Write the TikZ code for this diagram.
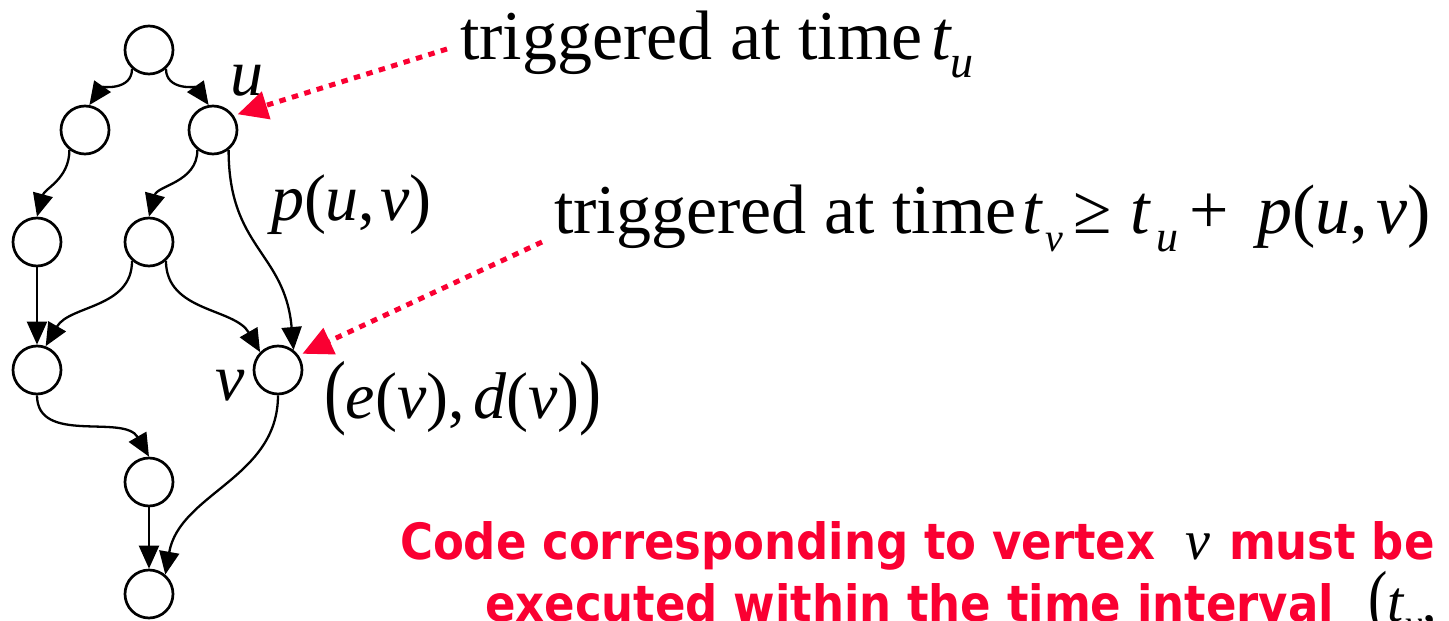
\documentclass[tikz,border=0pt]{standalone}
\usepackage{graphicx}
\usepackage{fontspec}
\setmainfont{Liberation Serif}
\newfontfamily\redsans[FakeStretch=0.9]{DejaVu Sans}
\usetikzlibrary{arrows.meta}
\definecolor{pptred}{RGB}{250,0,50}
\newcommand\mv[1]{\textit{#1}}
\newcommand\msub[2][46]{\raisebox{-0.27em}{\fontsize{#1}{#1}\selectfont\itshape #2}}
\newcommand\tallparen[1]{\scalebox{1}[1.25]{#1}}
\tikzset{
  vtx/.style={circle, draw, line width=2.7pt, minimum size=48pt, inner sep=0pt},
  edge/.style={line width=2.3pt, -{Triangle[length=23pt,width=20pt]}},
  redarrow/.style={draw=pptred, line width=5pt, dash pattern=on 6.5pt off 6.5pt,
    -{Triangle[length=30pt,width=28pt,fill=pptred]}, shorten >=4pt},
  lbl/.style={inner sep=0pt, outer sep=0pt, anchor=base west},
  big/.style={font=\fontsize{70}{84}\selectfont},
  mid/.style={font=\fontsize{66}{80}\selectfont},
  redtxt/.style={text=pptred, font=\fontsize{50}{60}\selectfont\redsans\bfseries},
}
\begin{document}
\begin{tikzpicture}[x=1pt,y=1pt]
\clip (0,0) rectangle (1449,-621);
\useasboundingbox (0,0) rectangle (1449,-621);

% vertices
\node[vtx] (A) at (149,-50) {};
\node[vtx] (B) at (85,-130) {};
\node[vtx] (U) at (213,-130) {};
\node[vtx] (C) at (37,-242) {};
\node[vtx] (D) at (149,-242) {};
\node[vtx] (E) at (37,-370) {};
\node[vtx] (V) at (278,-370) {};
\node[vtx] (F) at (149,-482) {};
\node[vtx] (G) at (149,-594) {};

% edges
\draw[edge] (A.228) to[out=-90,in=55] (B.80);
\draw[edge] (A.-48) to[out=-90,in=125] (U.100);
\draw[edge] (B.232) to[out=-90,in=75] (C.north);
\draw[edge] (U.232) to[out=-90,in=75] (D.north);
\draw[edge] (U.-52) to[out=-90,in=95,looseness=1.2] (V.52);
\draw[edge] (C.south) -- (E.north);
\draw[edge] (D.228) to[out=-90,in=60] (E.70);
\draw[edge] (D.-48) to[out=-90,in=120] (V.135);
\draw[edge] (E.south) to[out=-90,in=120] (F.north);
\draw[edge] (F.south) -- (G.north);
\draw[edge] (V.south) to[out=-90,in=80] (G.50);

% labels
\node[lbl, mid] (ulab) at (230,-95) {\mv{u}};
\node[lbl, mid] (vlab) at (215,-400) {\mv{v}};
\node[lbl, mid] (plab) at (271,-220) {\mv{p}(\mv{u},\hspace{5pt}\mv{v})};
\node[lbl, mid] (edlab) at (324,-418) {\tallparen{(}\mv{e}(\mv{v}),\hspace{8pt}\mv{d}(\mv{v})\tallparen{)}};

\node[lbl, big] (trig1) at (460,-59) {triggered at time};
\node[lbl, big] (tu1) at (931,-59) {\mv{t}\kern-1pt\msub{u}};
\node[lbl, big] (trig2) at (554,-233) {triggered at time};
\node[lbl, big] (eq2) at (1022,-233)
  {\mv{t}\kern3pt\msub[40]{v}\hspace{10pt}≥\hspace{18pt}\mv{t}\kern6pt\msub[44]{u}\hspace{11pt}+\hspace{28pt}\mv{p}(\mv{u},\hspace{8pt}\mv{v})};

% red arrows
\coordinate (r1) at (447,-49);
\coordinate (r2) at (542,-242);
\draw[redarrow] (r1) -- (U.35);
\draw[redarrow] (r2) -- (V.35);

% red note
\node[lbl, redtxt] (code1) at (400,-559) {Code corresponding to vertex};
\node[lbl, font=\fontsize{56}{60}\selectfont] (code1v) at (1185,-559) {\mv{v}};
\node[lbl, redtxt] (code1b) at (1229,-559) {must be};
\node[lbl, redtxt] (code2) at (485,-621) {executed within the time interval};
\node[lbl, font=\fontsize{58}{60}\selectfont] (code2t) at (1368,-621) {\tallparen{(}\mv{t}\kern1pt\msub[38]{v},};
\end{tikzpicture}
\end{document}
